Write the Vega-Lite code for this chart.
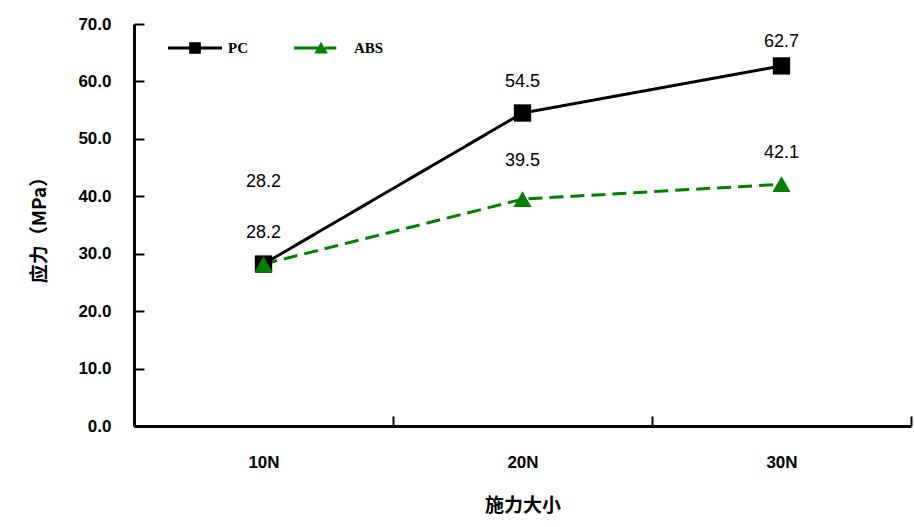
{
  "$schema": "https://vega.github.io/schema/vega-lite/v6.json",
  "width": 777,
  "height": 402,
  "autosize": {"type": "none"},
  "padding": {"left": 134, "top": 24, "right": 3, "bottom": 101},
  "background": "white",
  "config": {"view": {"stroke": null}},
  "data": {"values": [
    {"force": "10N", "series": "PC", "value": 28.2},
    {"force": "20N", "series": "PC", "value": 54.5},
    {"force": "30N", "series": "PC", "value": 62.7},
    {"force": "10N", "series": "ABS", "value": 28.2},
    {"force": "20N", "series": "ABS", "value": 39.5},
    {"force": "30N", "series": "ABS", "value": 42.1}
  ]},
  "encoding": {
    "x": {"field": "force", "type": "nominal", "sort": ["10N", "20N", "30N"],
      "scale": {"type": "band", "paddingInner": 0, "paddingOuter": 0},
      "axis": {"title": "施力大小", "titleFont": "Noto Sans CJK SC", "titleFontWeight": "bold", "titleFontSize": 19, "titlePadding": 26,
        "labelAngle": 0, "labelFont": "Liberation Sans", "labelFontWeight": "bold", "labelFontSize": 17, "labelColor": "#000", "labelPadding": 38,
        "tickBand": "extent", "tickSize": -10, "tickWidth": 2, "tickColor": "#000",
        "domainColor": "#000", "domainWidth": 3, "grid": false}},
    "y": {"field": "value", "type": "quantitative",
      "scale": {"domain": [0, 70], "nice": false},
      "axis": {"title": "应力（MPa）", "titleFont": "Noto Sans CJK SC", "titleFontWeight": "bold", "titleFontSize": 19, "titlePadding": 28,
        "values": [0, 10, 20, 30, 40, 50, 60, 70], "format": ".1f",
        "labelFont": "Liberation Sans", "labelFontWeight": "bold", "labelFontSize": 17, "labelColor": "#000", "labelPadding": 33,
        "tickSize": -10, "tickWidth": 2, "tickColor": "#000",
        "domainColor": "#000", "domainWidth": 3, "grid": false}}
  },
  "layer": [
    {
      "mark": {"type": "line", "strokeWidth": 3},
      "encoding": {
        "color": {"field": "series", "type": "nominal", "sort": ["PC", "ABS"],
          "scale": {"domain": ["PC", "ABS"], "range": ["#000000", "#008000"]},
          "legend": {"title": null, "orient": "none", "legendX": 52, "legendY": 15, "direction": "horizontal",
            "symbolSize": 324, "labelOffset": 24, "columnPadding": 46, "padding": 0,
            "labelFont": "Liberation Serif", "labelFontWeight": "bold", "labelFontSize": 15, "labelColor": "#000",
            "encode": {"symbols": {"update": {
              "shape": {"signal": "datum.value === 'PC' ? 'M-3,-0.17L3,-0.17L3,0.17L-3,0.17Z M-0.65,-0.65L0.65,-0.65L0.65,0.65L-0.65,0.65Z' : 'M-3,-0.17L-0.3,-0.17L-0.3,0.17L-3,0.17Z M0.4,-0.17L1.7,-0.17L1.7,0.17L0.4,0.17Z M-0.75,0.6L0,-0.7L0.75,0.6Z'"},
              "fill": {"signal": "datum.value === 'PC' ? '#000000' : '#008000'"},
              "strokeWidth": {"value": 0}
            }}}}},
        "strokeDash": {"field": "series", "type": "nominal",
          "scale": {"domain": ["PC", "ABS"], "range": [[1, 0], [14, 7]]}, "legend": null}
      }
    },
    {
      "transform": [{"filter": "datum.series === 'PC'"}],
      "mark": {"type": "point", "filled": true, "opacity": 1, "size": 300, "shape": "square", "color": "#000000"}
    },
    {
      "transform": [{"filter": "datum.series === 'ABS'"}],
      "mark": {"type": "point", "filled": true, "opacity": 1, "size": 330, "shape": "triangle-up", "color": "#008000"}
    },
    {
      "transform": [{"filter": "(datum.series === 'PC' && datum.force === '20N') || (datum.series === 'ABS' && datum.force !== '20N')"}],
      "mark": {"type": "text", "dy": -31, "font": "Liberation Sans", "fontSize": 18, "color": "#000"},
      "encoding": {"text": {"field": "value", "type": "quantitative", "format": ".1f"}}
    },
    {
      "transform": [{"filter": "datum.series === 'PC' && datum.force === '10N'"}],
      "mark": {"type": "text", "dy": -82, "font": "Liberation Sans", "fontSize": 18, "color": "#000"},
      "encoding": {"text": {"field": "value", "type": "quantitative", "format": ".1f"}}
    },
    {
      "transform": [{"filter": "datum.series === 'PC' && datum.force === '30N'"}],
      "mark": {"type": "text", "dy": -24, "font": "Liberation Sans", "fontSize": 18, "color": "#000"},
      "encoding": {"text": {"field": "value", "type": "quantitative", "format": ".1f"}}
    },
    {
      "transform": [{"filter": "datum.series === 'ABS' && datum.force === '20N'"}],
      "mark": {"type": "text", "dy": -38, "font": "Liberation Sans", "fontSize": 18, "color": "#000"},
      "encoding": {"text": {"field": "value", "type": "quantitative", "format": ".1f"}}
    }
  ]
}
